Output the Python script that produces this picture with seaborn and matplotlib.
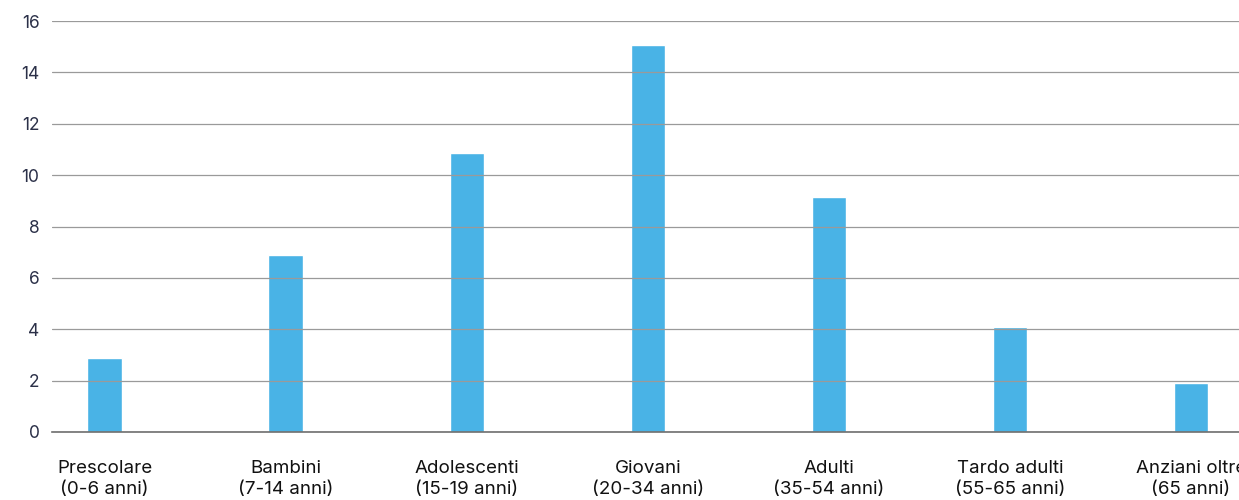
import matplotlib
matplotlib.use("Agg")
import matplotlib.pyplot as plt
import seaborn as sns
import pandas as pd

# data
categories = ["Prescolare\n(0-6 anni)", "Bambini\n(7-14 anni)", "Adolescenti\n(15-19 anni)",
              "Giovani\n(20-34 anni)", "Adulti\n(35-54 anni)", "Tardo adulti\n(55-65 anni)",
              "Anziani oltre\n(65 anni)"]
values = [2.9, 6.9, 10.85, 15.05, 9.15, 4.1, 1.9]
y_ticks = [0, 2, 4, 6, 8, 10, 12, 14, 16]

df = pd.DataFrame({"fascia": categories, "valore": values})

sns.set_theme(style="white")
plt.rcParams["font.family"] = ["Inter", "DejaVu Sans"]

fig = plt.figure(figsize=(12.39, 5), dpi=100)
ax = fig.add_axes([0.042, 0.136, 0.958, 0.822])

sns.barplot(data=df, x="fascia", y="valore", color="#49B3E6", width=0.19,
            saturation=1, ax=ax, zorder=1)

ax.set_xlim(-0.29, 6.265)
ax.set_ylim(0, 16)
ax.set_yticks(y_ticks)
ax.set_xlabel("")
ax.set_ylabel("")

# grid lines sit on top of the bars
ax.yaxis.grid(True, color="#9a9a9a", linewidth=0.9)
ax.set_axisbelow(False)
for sp in ["top", "right", "left"]:
    ax.spines[sp].set_visible(False)
ax.spines["bottom"].set_color("#6e6e6e")
ax.spines["bottom"].set_linewidth(1.2)
ax.spines["bottom"].set_zorder(3)

ax.tick_params(axis="y", length=0, pad=9, labelsize=12.5, labelcolor="#2b3048")
ax.tick_params(axis="x", length=0, pad=20, labelsize=13.5, labelcolor="#111111")
for lbl in ax.get_xticklabels():
    lbl.set_linespacing(1.3)

fig.savefig("out.png", dpi=100)
